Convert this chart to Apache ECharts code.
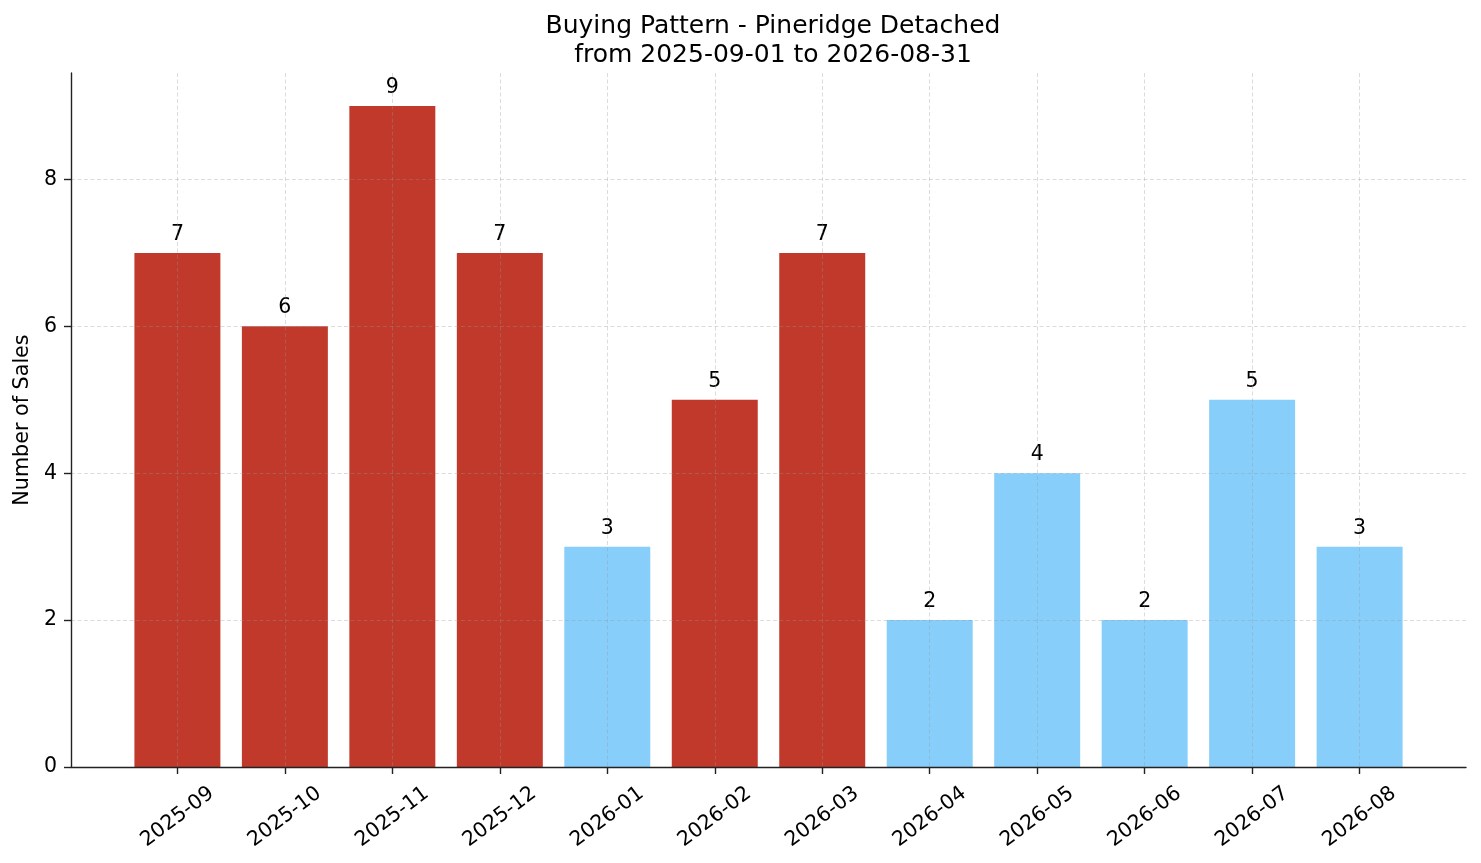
<!DOCTYPE html>
<html>
<head>
<meta charset="utf-8">
<script src="https://cdn.jsdelivr.net/npm/echarts@6/dist/echarts.min.js"></script>
<style>
  html, body { margin: 0; padding: 0; background: #fff; }
  #chart { width: 1481px; height: 863px; }
</style>
</head>
<body>
<div id="chart"></div>
<script>
// ---- data ----
const months = ['2025-09','2025-10','2025-11','2025-12','2026-01','2026-02','2026-03','2026-04','2026-05','2026-06','2026-07','2026-08'];
const sales = [7, 6, 9, 7, 3, 5, 7, 2, 4, 2, 5, 3];
const highlighted = [true, true, true, true, false, true, true, false, false, false, false, false];
const yTicks = [0, 2, 4, 6, 8];
const titleLines = ['Buying Pattern - Pineridge Detached', 'from 2025-09-01 to 2026-08-31'];

const RED = '#c0392b';
const BLUE = '#87cefa';
const FONT = 'DejaVu Sans';
const GRIDLINE = { color: 'rgba(150,150,150,0.42)', width: 0.8, type: [4, 2.5] };

const xIdx = months.map((m, i) => i);
const barData = sales.map((v, i) => ({
  value: [i, v],
  itemStyle: { color: highlighted[i] ? RED : BLUE }
}));

const chart = echarts.init(document.getElementById('chart'), null, { renderer: 'canvas' });
chart.setOption({
  animation: false,
  backgroundColor: '#fff',
  textStyle: { fontFamily: FONT },
  title: {
    text: titleLines.join('\n'),
    left: 768,
    textAlign: 'center',
    top: 7,
    textStyle: { fontFamily: FONT, fontSize: 25, fontWeight: 'normal', color: '#000', lineHeight: 29 }
  },
  grid: { left: 71, right: 15, top: 73, bottom: 96, containLabel: false },
  xAxis: {
    type: 'value',
    min: -0.99,
    max: 11.99,
    z: 3,
    axisLine: { show: true, onZero: false, lineStyle: { color: '#222', width: 1.4 } },
    axisTick: { show: true, length: 7, customValues: xIdx, lineStyle: { color: '#222', width: 1.4 } },
    axisLabel: {
      customValues: xIdx,
      formatter: v => months[Math.round(v)] || '',
      rotate: 37,
      align: 'center',
      verticalAlign: 'middle',
      margin: 50,
      fontFamily: FONT,
      fontSize: 20.5,
      color: '#000'
    },
    splitLine: { show: true, lineStyle: GRIDLINE }
  },
  yAxis: {
    type: 'value',
    min: 0,
    max: 9.45,
    z: 3,
    name: 'Number of Sales',
    nameLocation: 'middle',
    nameGap: 37,
    nameRotate: 90,
    nameTextStyle: { fontFamily: FONT, fontSize: 20.7, color: '#000' },
    axisLine: { show: true, onZero: false, lineStyle: { color: '#222', width: 1.4 } },
    axisTick: { show: true, length: 7, customValues: yTicks, lineStyle: { color: '#222', width: 1.4 } },
    axisLabel: { customValues: yTicks, margin: 14, fontFamily: FONT, fontSize: 20.5, color: '#000' },
    splitLine: { show: true, lineStyle: GRIDLINE }
  },
  series: [{
    type: 'bar',
    data: barData,
    barWidth: '80%',
    z: 2,
    label: {
      show: true,
      position: 'top',
      distance: 8,
      formatter: p => String(p.value[1]),
      fontFamily: FONT,
      fontSize: 20.5,
      color: '#000'
    }
  }]
});
</script>
</body>
</html>
